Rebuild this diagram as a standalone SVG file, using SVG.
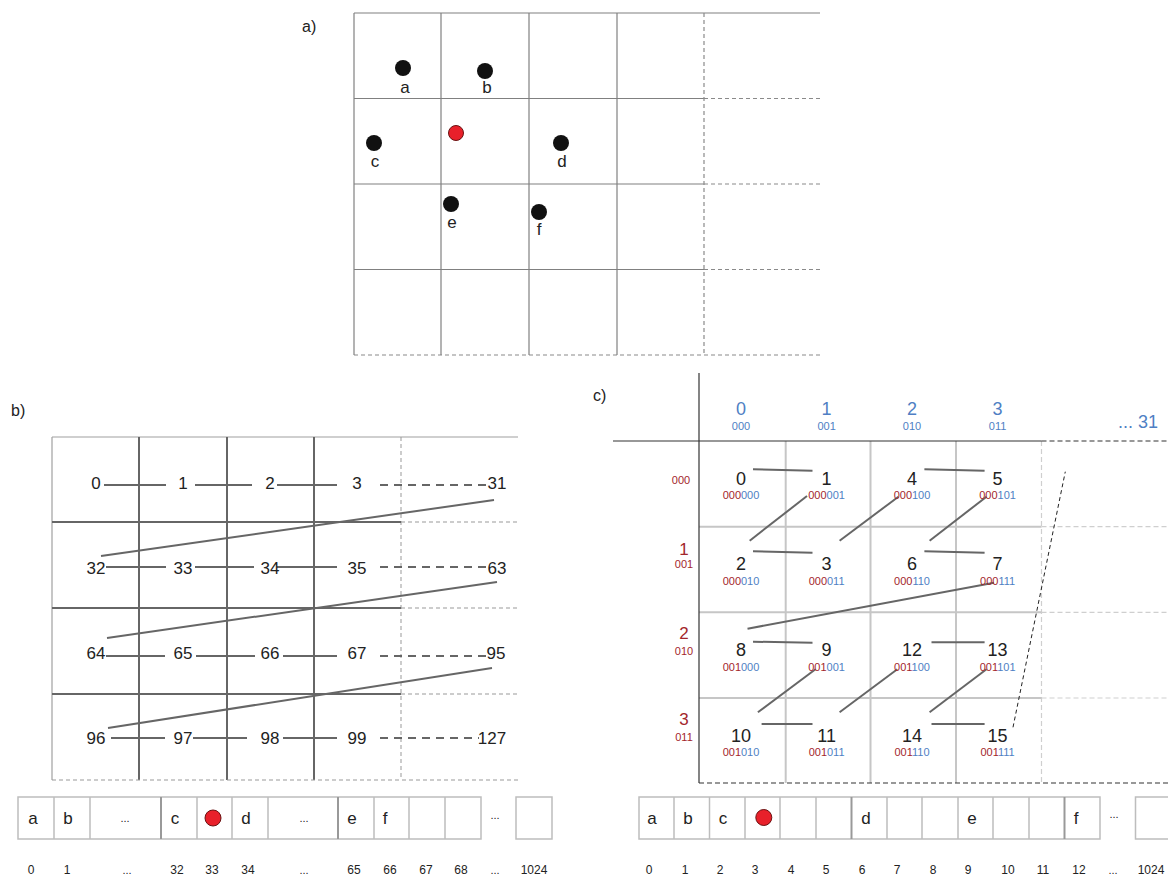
<svg xmlns="http://www.w3.org/2000/svg" width="1168" height="877" viewBox="0 0 1168 877">
<style>
text{font-family:"Liberation Sans",Arial,sans-serif;fill:#222}
.lab{font-size:16px}
.pt{font-size:17px;text-anchor:middle}
.num{font-size:17px;text-anchor:middle}
.big{font-size:18px;text-anchor:middle}
.bin{font-size:11px;text-anchor:middle}
.r{fill:#a3262b}
.u{fill:#4f7fc4}
.hdr{font-size:18px;text-anchor:middle;fill:#4f7fc4}
.hdrs{font-size:11px;text-anchor:middle;fill:#4f7fc4}
.rh{font-size:17px;text-anchor:middle;fill:#a3262b}
.rhs{font-size:11px;text-anchor:middle;fill:#a3262b}
.box{font-size:17px;text-anchor:middle}
.idx{font-size:12px;text-anchor:middle}
.ell{font-size:11px;text-anchor:middle}
.ga{stroke:#808080;stroke-width:1.2;fill:none}
.gad{stroke:#8a8a8a;stroke-width:1.2;stroke-dasharray:4 3;fill:none}
.gb{stroke:#666;stroke-width:2;fill:none}
.gbl{stroke:#a0a0a0;stroke-width:1.2;fill:none}
.gbd{stroke:#999;stroke-width:1;stroke-dasharray:4 3;fill:none}
.gc{stroke:#c6c6c6;stroke-width:2;fill:none}
.gcd{stroke:#cfcfcf;stroke-width:1.2;stroke-dasharray:5 3;fill:none}
.ax{stroke:#333;stroke-width:1.2;fill:none}
.axd{stroke:#333;stroke-width:1.2;stroke-dasharray:5 3;fill:none}
.cn{stroke:#666;stroke-width:2;fill:none}
.cnd{stroke:#666;stroke-width:2;stroke-dasharray:8 6;fill:none}
.cdk{stroke:#222;stroke-width:1;stroke-dasharray:4 3;fill:none}
.cell{fill:#fff;stroke:#bdbdbd;stroke-width:1.5}
.sep{stroke:#999;stroke-width:2}
.dot{fill:#111}
.red{fill:#e8202a;stroke:#6a1212;stroke-width:1}
</style>

<!-- ===== Panel a ===== -->
<g id="panel-a">
  <text class="lab" x="302" y="32">a)</text>
  <g id="grid-a">
    <line class="ga" x1="354" y1="13" x2="820" y2="13"/>
    <line class="ga" x1="354" y1="98.5" x2="704" y2="98.5"/>
    <line class="ga" x1="354" y1="184" x2="704" y2="184"/>
    <line class="ga" x1="354" y1="269.5" x2="704" y2="269.5"/>
    <line class="gad" x1="704" y1="98.5" x2="820" y2="98.5"/>
    <line class="gad" x1="704" y1="184" x2="820" y2="184"/>
    <line class="gad" x1="704" y1="269.5" x2="820" y2="269.5"/>
    <line class="gad" x1="354" y1="355" x2="820" y2="355"/>
    <line class="ga" x1="354" y1="13" x2="354" y2="355"/>
    <line class="ga" x1="441" y1="13" x2="441" y2="355"/>
    <line class="ga" x1="529" y1="13" x2="529" y2="355"/>
    <line class="ga" x1="617" y1="13" x2="617" y2="355"/>
    <line class="gad" x1="704" y1="13" x2="704" y2="355"/>
  </g>
  <g id="pt-a"><circle class="dot" cx="403" cy="68" r="8"/><text class="pt" x="405" y="93">a</text></g>
  <g id="pt-b"><circle class="dot" cx="485" cy="71" r="8"/><text class="pt" x="487" y="93">b</text></g>
  <g id="pt-query"><circle class="red" cx="456" cy="133" r="7.5"/></g>
  <g id="pt-c"><circle class="dot" cx="374" cy="143" r="8"/><text class="pt" x="375" y="167">c</text></g>
  <g id="pt-d"><circle class="dot" cx="561" cy="143" r="8"/><text class="pt" x="562" y="167">d</text></g>
  <g id="pt-e"><circle class="dot" cx="451" cy="204" r="8"/><text class="pt" x="452" y="228">e</text></g>
  <g id="pt-f"><circle class="dot" cx="539" cy="212" r="8"/><text class="pt" x="539" y="235">f</text></g>
</g>

<!-- ===== Panel b ===== -->
<g id="panel-b">
  <text class="lab" x="11" y="416">b)</text>
  <g id="grid-b">
    <line class="gbl" x1="52" y1="437" x2="518" y2="437"/>
    <line class="gbl" x1="52" y1="437" x2="52" y2="780"/>
    <line class="gb" x1="139" y1="437" x2="139" y2="780"/>
    <line class="gb" x1="227" y1="437" x2="227" y2="780"/>
    <line class="gb" x1="314" y1="437" x2="314" y2="780"/>
    <line class="gbd" x1="401" y1="437" x2="401" y2="780"/>
    <line class="gb" x1="52" y1="522" x2="401" y2="522"/>
    <line class="gb" x1="52" y1="608" x2="401" y2="608"/>
    <line class="gb" x1="52" y1="694" x2="401" y2="694"/>
    <line class="gbd" x1="401" y1="522" x2="518" y2="522"/>
    <line class="gbd" x1="401" y1="608" x2="518" y2="608"/>
    <line class="gbd" x1="401" y1="694" x2="518" y2="694"/>
    <line class="gbd" x1="52" y1="780" x2="518" y2="780"/>
  </g>
  <g id="connectors-b">
    <line class="cn" x1="104" y1="485" x2="166" y2="485"/>
    <line class="cn" x1="195" y1="485" x2="252" y2="485"/>
    <line class="cn" x1="277" y1="485" x2="337" y2="485"/>
    <line class="cnd" x1="380" y1="485" x2="487" y2="485"/>
    <line class="cn" x1="494" y1="500" x2="101" y2="556"/>
    <line class="cn" x1="106" y1="567" x2="166" y2="567"/>
    <line class="cn" x1="195" y1="567" x2="254" y2="567"/>
    <line class="cn" x1="277" y1="567" x2="337" y2="567"/>
    <line class="cnd" x1="380" y1="567" x2="487" y2="567"/>
    <line class="cn" x1="497" y1="582" x2="107" y2="638"/>
    <line class="cn" x1="106" y1="656" x2="165" y2="656"/>
    <line class="cn" x1="196" y1="656" x2="255" y2="656"/>
    <line class="cn" x1="283" y1="656" x2="337" y2="656"/>
    <line class="cnd" x1="380" y1="656" x2="489" y2="656"/>
    <line class="cn" x1="492" y1="668" x2="108" y2="728"/>
    <line class="cn" x1="111" y1="738" x2="165" y2="738"/>
    <line class="cn" x1="193" y1="738" x2="247" y2="738"/>
    <line class="cn" x1="283" y1="738" x2="337" y2="738"/>
    <line class="cnd" x1="380" y1="738" x2="479" y2="738"/>
  </g>
  <g id="n-b-row0"><text class="num" x="96" y="489">0</text><text class="num" x="183" y="489">1</text><text class="num" x="270" y="489">2</text><text class="num" x="357" y="489">3</text><text class="num" x="497" y="489">31</text></g>
  <g id="n-b-row1"><text class="num" x="96" y="574">32</text><text class="num" x="183" y="574">33</text><text class="num" x="270" y="574">34</text><text class="num" x="357" y="574">35</text><text class="num" x="497" y="574">63</text></g>
  <g id="n-b-row2"><text class="num" x="96" y="659">64</text><text class="num" x="183" y="659">65</text><text class="num" x="270" y="659">66</text><text class="num" x="357" y="659">67</text><text class="num" x="496" y="659">95</text></g>
  <g id="n-b-row3"><text class="num" x="96" y="744">96</text><text class="num" x="183" y="744">97</text><text class="num" x="270" y="744">98</text><text class="num" x="357" y="744">99</text><text class="num" x="492" y="744">127</text></g>
  <g id="array-b">
    <rect class="cell" x="18" y="797" width="463" height="42"/>
    <line class="cell" x1="54" y1="797" x2="54" y2="839"/>
    <line class="cell" x1="90" y1="797" x2="90" y2="839"/>
    <line class="sep" x1="161" y1="797" x2="161" y2="839"/>
    <line class="cell" x1="197" y1="797" x2="197" y2="839"/>
    <line class="cell" x1="232" y1="797" x2="232" y2="839"/>
    <line class="cell" x1="268" y1="797" x2="268" y2="839"/>
    <line class="sep" x1="338" y1="797" x2="338" y2="839"/>
    <line class="cell" x1="374" y1="797" x2="374" y2="839"/>
    <line class="cell" x1="409" y1="797" x2="409" y2="839"/>
    <line class="cell" x1="445" y1="797" x2="445" y2="839"/>
    <rect class="cell" x="516" y="797" width="36" height="42"/>
    <text class="box" x="33" y="824">a</text>
    <text class="box" x="68" y="824">b</text>
    <text class="ell" x="125" y="822">...</text>
    <text class="box" x="175" y="824">c</text>
    <circle class="red" cx="213" cy="818" r="8"/>
    <text class="box" x="246" y="824">d</text>
    <text class="ell" x="304" y="822">...</text>
    <text class="box" x="352" y="824">e</text>
    <text class="box" x="385" y="824">f</text>
    <text class="ell" x="495" y="819">...</text>
  </g>
  <g id="index-b">
    <text class="idx" x="31" y="874">0</text><text class="idx" x="67" y="874">1</text><text class="ell" x="127" y="874">...</text>
    <text class="idx" x="177" y="874">32</text><text class="idx" x="212" y="874">33</text><text class="idx" x="248" y="874">34</text>
    <text class="ell" x="304" y="874">...</text>
    <text class="idx" x="354" y="874">65</text><text class="idx" x="390" y="874">66</text><text class="idx" x="426" y="874">67</text><text class="idx" x="461" y="874">68</text>
    <text class="ell" x="495" y="874">...</text><text class="idx" x="534" y="874">1024</text>
  </g>
</g>

<!-- ===== Panel c ===== -->
<g id="panel-c">
  <text class="lab" x="593" y="401">c)</text>
  <g id="grid-c">
    <line class="gc" x1="785.7" y1="441" x2="785.7" y2="783"/>
    <line class="gc" x1="870.5" y1="441" x2="870.5" y2="783"/>
    <line class="gc" x1="956" y1="441" x2="956" y2="783"/>
    <line class="gcd" x1="1041.5" y1="441" x2="1041.5" y2="783"/>
    <line class="gc" x1="699" y1="526.7" x2="1041.5" y2="526.7"/>
    <line class="gc" x1="699" y1="612.3" x2="1041.5" y2="612.3"/>
    <line class="gc" x1="699" y1="698" x2="1041.5" y2="698"/>
    <line class="gcd" x1="1041.5" y1="526.7" x2="1168" y2="526.7"/>
    <line class="gcd" x1="1041.5" y1="612.3" x2="1168" y2="612.3"/>
    <line class="gcd" x1="1041.5" y1="698" x2="1168" y2="698"/>
    <line class="ax" x1="699" y1="373" x2="699" y2="783"/>
    <line class="ax" x1="613" y1="441" x2="1041.5" y2="441"/>
    <line class="axd" x1="1041.5" y1="441" x2="1168" y2="441"/>
    <line class="axd" x1="699" y1="783" x2="1168" y2="783"/>
  </g>
  <g id="col-headers">
    <text class="hdr" x="741" y="415">0</text><text class="hdrs" x="741" y="430">000</text>
    <text class="hdr" x="826.6" y="415">1</text><text class="hdrs" x="826.6" y="430">001</text>
    <text class="hdr" x="912" y="415">2</text><text class="hdrs" x="912" y="430">010</text>
    <text class="hdr" x="997.6" y="415">3</text><text class="hdrs" x="997.6" y="430">011</text>
    <text class="hdr" x="1118" y="428" style="text-anchor:start">... 31</text>
  </g>
  <g id="row-headers">
    <text class="rhs" x="681" y="484">000</text>
    <text class="rh" x="684" y="555">1</text><text class="rhs" x="684" y="568">001</text>
    <text class="rh" x="684" y="639">2</text><text class="rhs" x="684" y="655">010</text>
    <text class="rh" x="684" y="725">3</text><text class="rhs" x="684" y="741">011</text>
  </g>
  <g id="connectors-c">
    <line class="cn" x1="753" y1="469.3" x2="812.5" y2="470.7"/>
    <line class="cn" x1="924.4" y1="469.3" x2="984.6" y2="470.7"/>
    <line class="cn" x1="807" y1="496" x2="749.7" y2="540.7"/>
    <line class="cn" x1="839.6" y1="540.7" x2="898.4" y2="496.7"/>
    <line class="cn" x1="986.5" y1="496.7" x2="929.6" y2="540.7"/>
    <line class="cn" x1="753" y1="551.3" x2="812.5" y2="552.7"/>
    <line class="cn" x1="924.4" y1="551.3" x2="984.6" y2="552.7"/>
    <line class="cn" x1="994" y1="582.7" x2="747.5" y2="628.7"/>
    <line class="cn" x1="753" y1="641.7" x2="812.5" y2="642.7"/>
    <line class="cn" x1="931.5" y1="642.3" x2="984.6" y2="642.3"/>
    <line class="cn" x1="815.5" y1="669.3" x2="757.9" y2="712.3"/>
    <line class="cn" x1="839.6" y1="712.3" x2="897.3" y2="669.3"/>
    <line class="cn" x1="986.5" y1="669.3" x2="929.6" y2="712.3"/>
    <line class="cn" x1="761.6" y1="724" x2="812.5" y2="724"/>
    <line class="cn" x1="931.5" y1="724" x2="984.6" y2="724"/>
    <line class="cdk" x1="1013" y1="727.3" x2="1065.3" y2="471.7"/>
  </g>
  <g id="c-0"><text class="big" x="741" y="484.5">0</text><text class="bin" x="741" y="499"><tspan class="r">000</tspan><tspan class="u">000</tspan></text></g>
  <g id="c-1"><text class="big" x="826.6" y="484.5">1</text><text class="bin" x="826.6" y="499"><tspan class="r">000</tspan><tspan class="u">001</tspan></text></g>
  <g id="c-4"><text class="big" x="912" y="484.5">4</text><text class="bin" x="912" y="499"><tspan class="r">000</tspan><tspan class="u">100</tspan></text></g>
  <g id="c-5"><text class="big" x="997.6" y="484.5">5</text><text class="bin" x="997.6" y="499"><tspan class="r">000</tspan><tspan class="u">101</tspan></text></g>
  <g id="c-2"><text class="big" x="741" y="570">2</text><text class="bin" x="741" y="584.5"><tspan class="r">000</tspan><tspan class="u">010</tspan></text></g>
  <g id="c-3"><text class="big" x="826.6" y="570">3</text><text class="bin" x="826.6" y="584.5"><tspan class="r">000</tspan><tspan class="u">011</tspan></text></g>
  <g id="c-6"><text class="big" x="912" y="570">6</text><text class="bin" x="912" y="584.5"><tspan class="r">000</tspan><tspan class="u">110</tspan></text></g>
  <g id="c-7"><text class="big" x="997.6" y="570">7</text><text class="bin" x="997.6" y="584.5"><tspan class="r">000</tspan><tspan class="u">111</tspan></text></g>
  <g id="c-8"><text class="big" x="741" y="656">8</text><text class="bin" x="741" y="671"><tspan class="r">001</tspan><tspan class="u">000</tspan></text></g>
  <g id="c-9"><text class="big" x="826.6" y="656">9</text><text class="bin" x="826.6" y="671"><tspan class="r">001</tspan><tspan class="u">001</tspan></text></g>
  <g id="c-12"><text class="big" x="912" y="656">12</text><text class="bin" x="912" y="671"><tspan class="r">001</tspan><tspan class="u">100</tspan></text></g>
  <g id="c-13"><text class="big" x="997.6" y="656">13</text><text class="bin" x="997.6" y="671"><tspan class="r">001</tspan><tspan class="u">101</tspan></text></g>
  <g id="c-10"><text class="big" x="741" y="742">10</text><text class="bin" x="741" y="756"><tspan class="r">001</tspan><tspan class="u">010</tspan></text></g>
  <g id="c-11"><text class="big" x="826.6" y="742">11</text><text class="bin" x="826.6" y="756"><tspan class="r">001</tspan><tspan class="u">011</tspan></text></g>
  <g id="c-14"><text class="big" x="912" y="742">14</text><text class="bin" x="912" y="756"><tspan class="r">001</tspan><tspan class="u">110</tspan></text></g>
  <g id="c-15"><text class="big" x="997.6" y="742">15</text><text class="bin" x="997.6" y="756"><tspan class="r">001</tspan><tspan class="u">111</tspan></text></g>
  <g id="array-c">
    <rect class="cell" x="639" y="797" width="461" height="42"/>
    <line class="cell" x1="674" y1="797" x2="674" y2="839"/>
    <line class="cell" x1="709.5" y1="797" x2="709.5" y2="839"/>
    <line class="cell" x1="745" y1="797" x2="745" y2="839"/>
    <line class="cell" x1="780" y1="797" x2="780" y2="839"/>
    <line class="cell" x1="816" y1="797" x2="816" y2="839"/>
    <line class="sep" x1="851.5" y1="797" x2="851.5" y2="839"/>
    <line class="cell" x1="887" y1="797" x2="887" y2="839"/>
    <line class="cell" x1="922" y1="797" x2="922" y2="839"/>
    <line class="cell" x1="958" y1="797" x2="958" y2="839"/>
    <line class="cell" x1="993" y1="797" x2="993" y2="839"/>
    <line class="cell" x1="1029" y1="797" x2="1029" y2="839"/>
    <line class="sep" x1="1064.5" y1="797" x2="1064.5" y2="839"/>
    <rect class="cell" x="1135.5" y="797" width="40" height="42"/>
    <text class="box" x="652" y="824">a</text>
    <text class="box" x="688" y="824">b</text>
    <text class="box" x="723" y="824">c</text>
    <circle class="red" cx="763.8" cy="817.5" r="8"/>
    <text class="box" x="866" y="824">d</text>
    <text class="box" x="972" y="824">e</text>
    <text class="box" x="1076" y="824">f</text>
    <text class="ell" x="1114" y="818">...</text>
  </g>
  <g id="index-c">
    <text class="idx" x="649" y="874">0</text><text class="idx" x="685" y="874">1</text><text class="idx" x="720" y="874">2</text>
    <text class="idx" x="755" y="874">3</text><text class="idx" x="791" y="874">4</text><text class="idx" x="826" y="874">5</text>
    <text class="idx" x="862" y="874">6</text><text class="idx" x="897" y="874">7</text><text class="idx" x="933" y="874">8</text>
    <text class="idx" x="968" y="874">9</text><text class="idx" x="1008" y="874">10</text><text class="idx" x="1043" y="874">11</text>
    <text class="idx" x="1079" y="874">12</text><text class="ell" x="1113" y="874">...</text><text class="idx" x="1151" y="874">1024</text>
  </g>
</g>
</svg>
